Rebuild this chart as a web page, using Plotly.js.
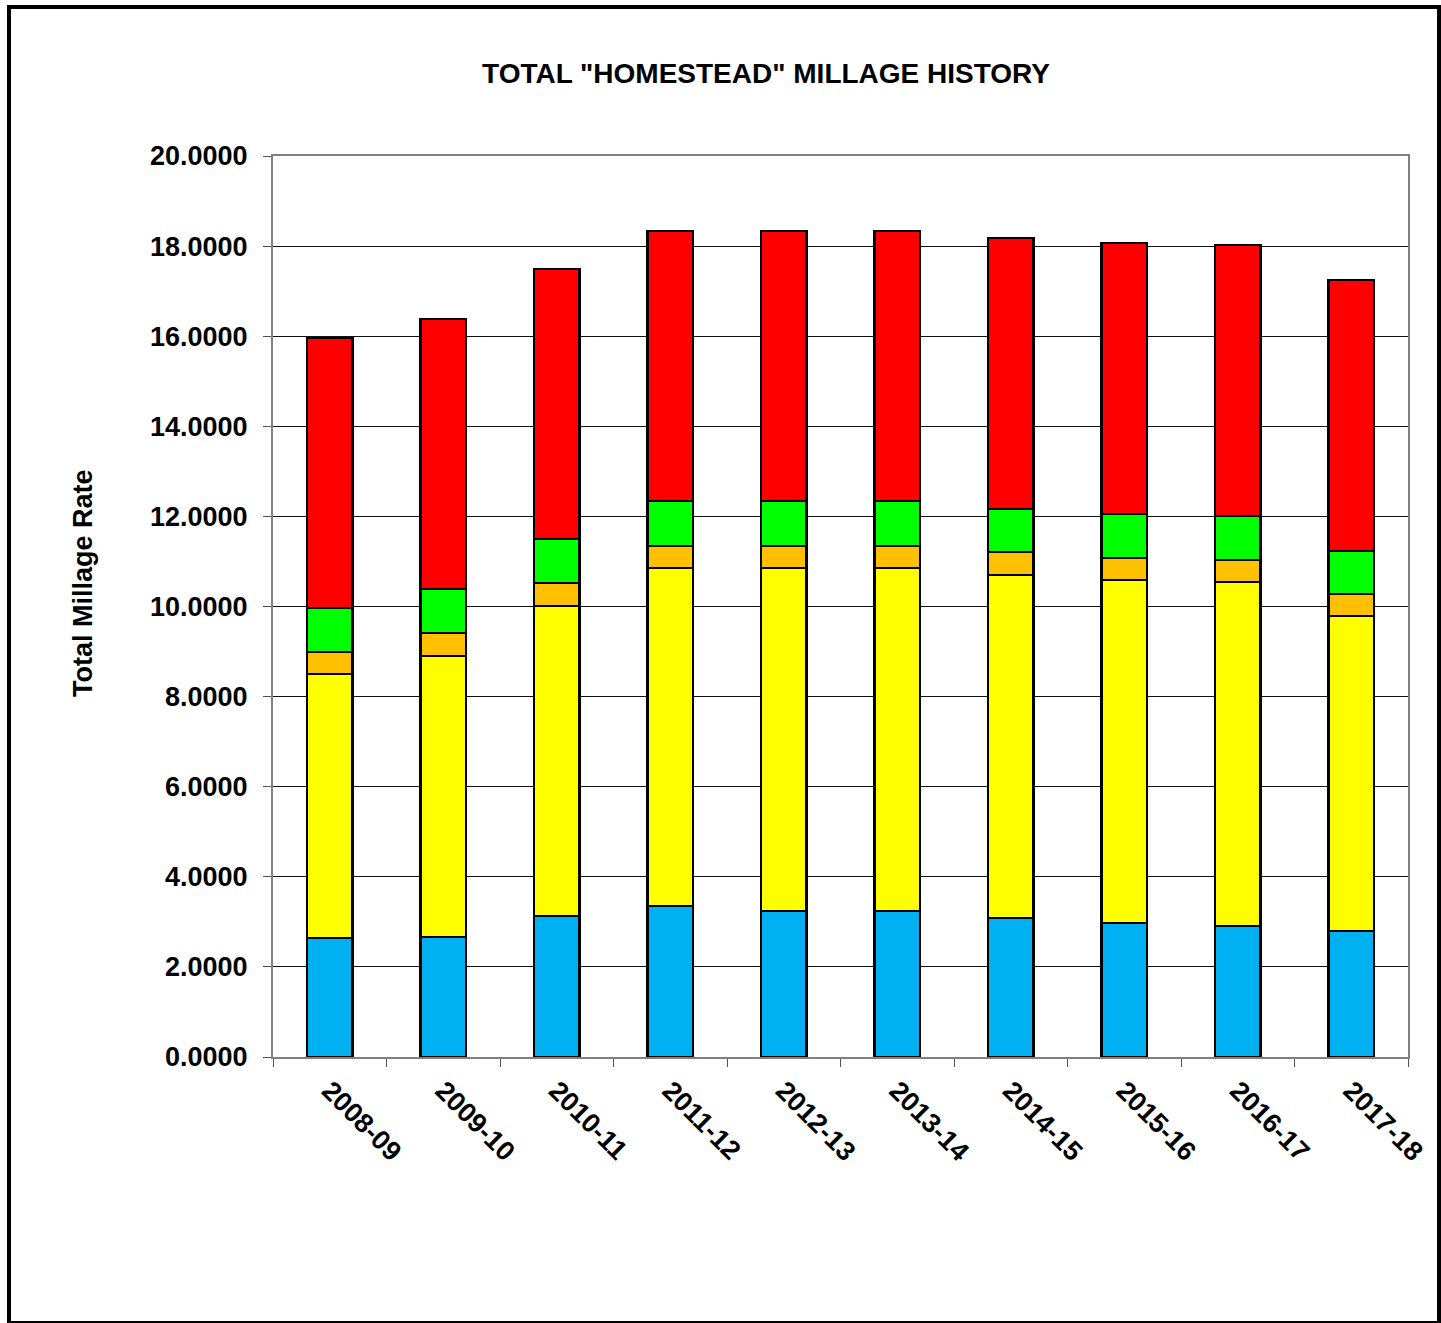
<!DOCTYPE html>
<html>
<head>
<meta charset="utf-8">
<script src="https://cdn.plot.ly/plotly-3.0.1.min.js"></script>
<style>
  html, body { margin: 0; padding: 0; background: #fff; }
  #chart { position: absolute; left: 0; top: 0; width: 1441px; height: 1323px; }
  #frame { position: absolute; left: 7px; top: 5px; width: 1426px; height: 1312px; border: 4px solid #000; pointer-events: none; }
</style>
</head>
<body>
<div id="chart"></div>
<div id="frame"></div>
<script>
const years = ["2008-09","2009-10","2010-11","2011-12","2012-13","2013-14","2014-15","2015-16","2016-17","2017-18"];
const blueVals   = [2.64, 2.66, 3.13, 3.35, 3.24, 3.24, 3.09, 2.97, 2.91, 2.80];
const yellowVals = [5.86, 6.24, 6.88, 7.50, 7.61, 7.61, 7.61, 7.62, 7.63, 6.99];
const orangeVals = [0.49, 0.51, 0.51, 0.49, 0.49, 0.49, 0.51, 0.49, 0.49, 0.49];
const greenVals  = [0.98, 0.98, 0.98, 1.00, 1.00, 1.00, 0.95, 0.97, 0.98, 0.95];
const redVals    = [5.99, 5.99, 5.99, 6.00, 6.00, 6.00, 6.02, 6.02, 6.01, 6.02];

const series = [
  {name: "Blue",   y: blueVals,   color: "#00B0F0"},
  {name: "Yellow", y: yellowVals, color: "#FFFF00"},
  {name: "Orange", y: orangeVals, color: "#FFC000"},
  {name: "Green",  y: greenVals,  color: "#00FF00"},
  {name: "Red",    y: redVals,    color: "#FF0000"}
];

const traces = series.map(s => ({
  type: "bar",
  x: years,
  y: s.y,
  name: s.name,
  marker: {color: s.color, line: {color: "#000", width: 2.5}},
  hoverinfo: "x+y"
}));

const font = "Arial, 'Liberation Sans', sans-serif";

const layout = {
  width: 1441,
  height: 1323,
  barmode: "stack",
  bargap: 0.6,
  showlegend: false,
  paper_bgcolor: "#fff",
  plot_bgcolor: "#fff",
  margin: {l: 273, r: 33, t: 156, b: 266},
  title: {
    text: "<b>TOTAL \"HOMESTEAD\" MILLAGE HISTORY</b>",
    font: {family: font, size: 28, color: "#000"},
    xref: "container", x: 766/1441, xanchor: "center",
    yref: "container", y: 1 - 73/1323, yanchor: "middle"
  },
  xaxis: {
    type: "category",
    tickangle: 45,
    tickfont: {family: font, size: 27, color: "#000", weight: "bold"},
    ticks: "outside",
    tickson: "boundaries",
    ticklen: 8,
    tickcolor: "#555",
    ticklabelstandoff: 5,
    showline: true,
    linecolor: "#808080",
    linewidth: 2,
    mirror: true,
    automargin: false,
    showgrid: false
  },
  yaxis: {
    range: [0, 20],
    dtick: 2,
    tickformat: ".4f",
    tickfont: {family: font, size: 27, color: "#000", weight: "bold"},
    ticks: "outside",
    ticklen: 8,
    tickcolor: "#555",
    ticklabelstandoff: 10,
    showline: true,
    linecolor: "#808080",
    linewidth: 2,
    mirror: true,
    showgrid: true,
    gridcolor: "#111",
    gridwidth: 1,
    zeroline: false,
    automargin: false
  },
  annotations: [{
    text: "<b>Total Millage Rate</b>",
    textangle: -90,
    font: {family: font, size: 27, color: "#000"},
    xref: "paper", yref: "paper",
    x: (83 - 273) / 1135, y: (1057 - 583) / 901,
    xanchor: "center", yanchor: "middle",
    showarrow: false
  }]
};

Plotly.newPlot("chart", traces, layout, {displayModeBar: false, staticPlot: true});
</script>
</body>
</html>
